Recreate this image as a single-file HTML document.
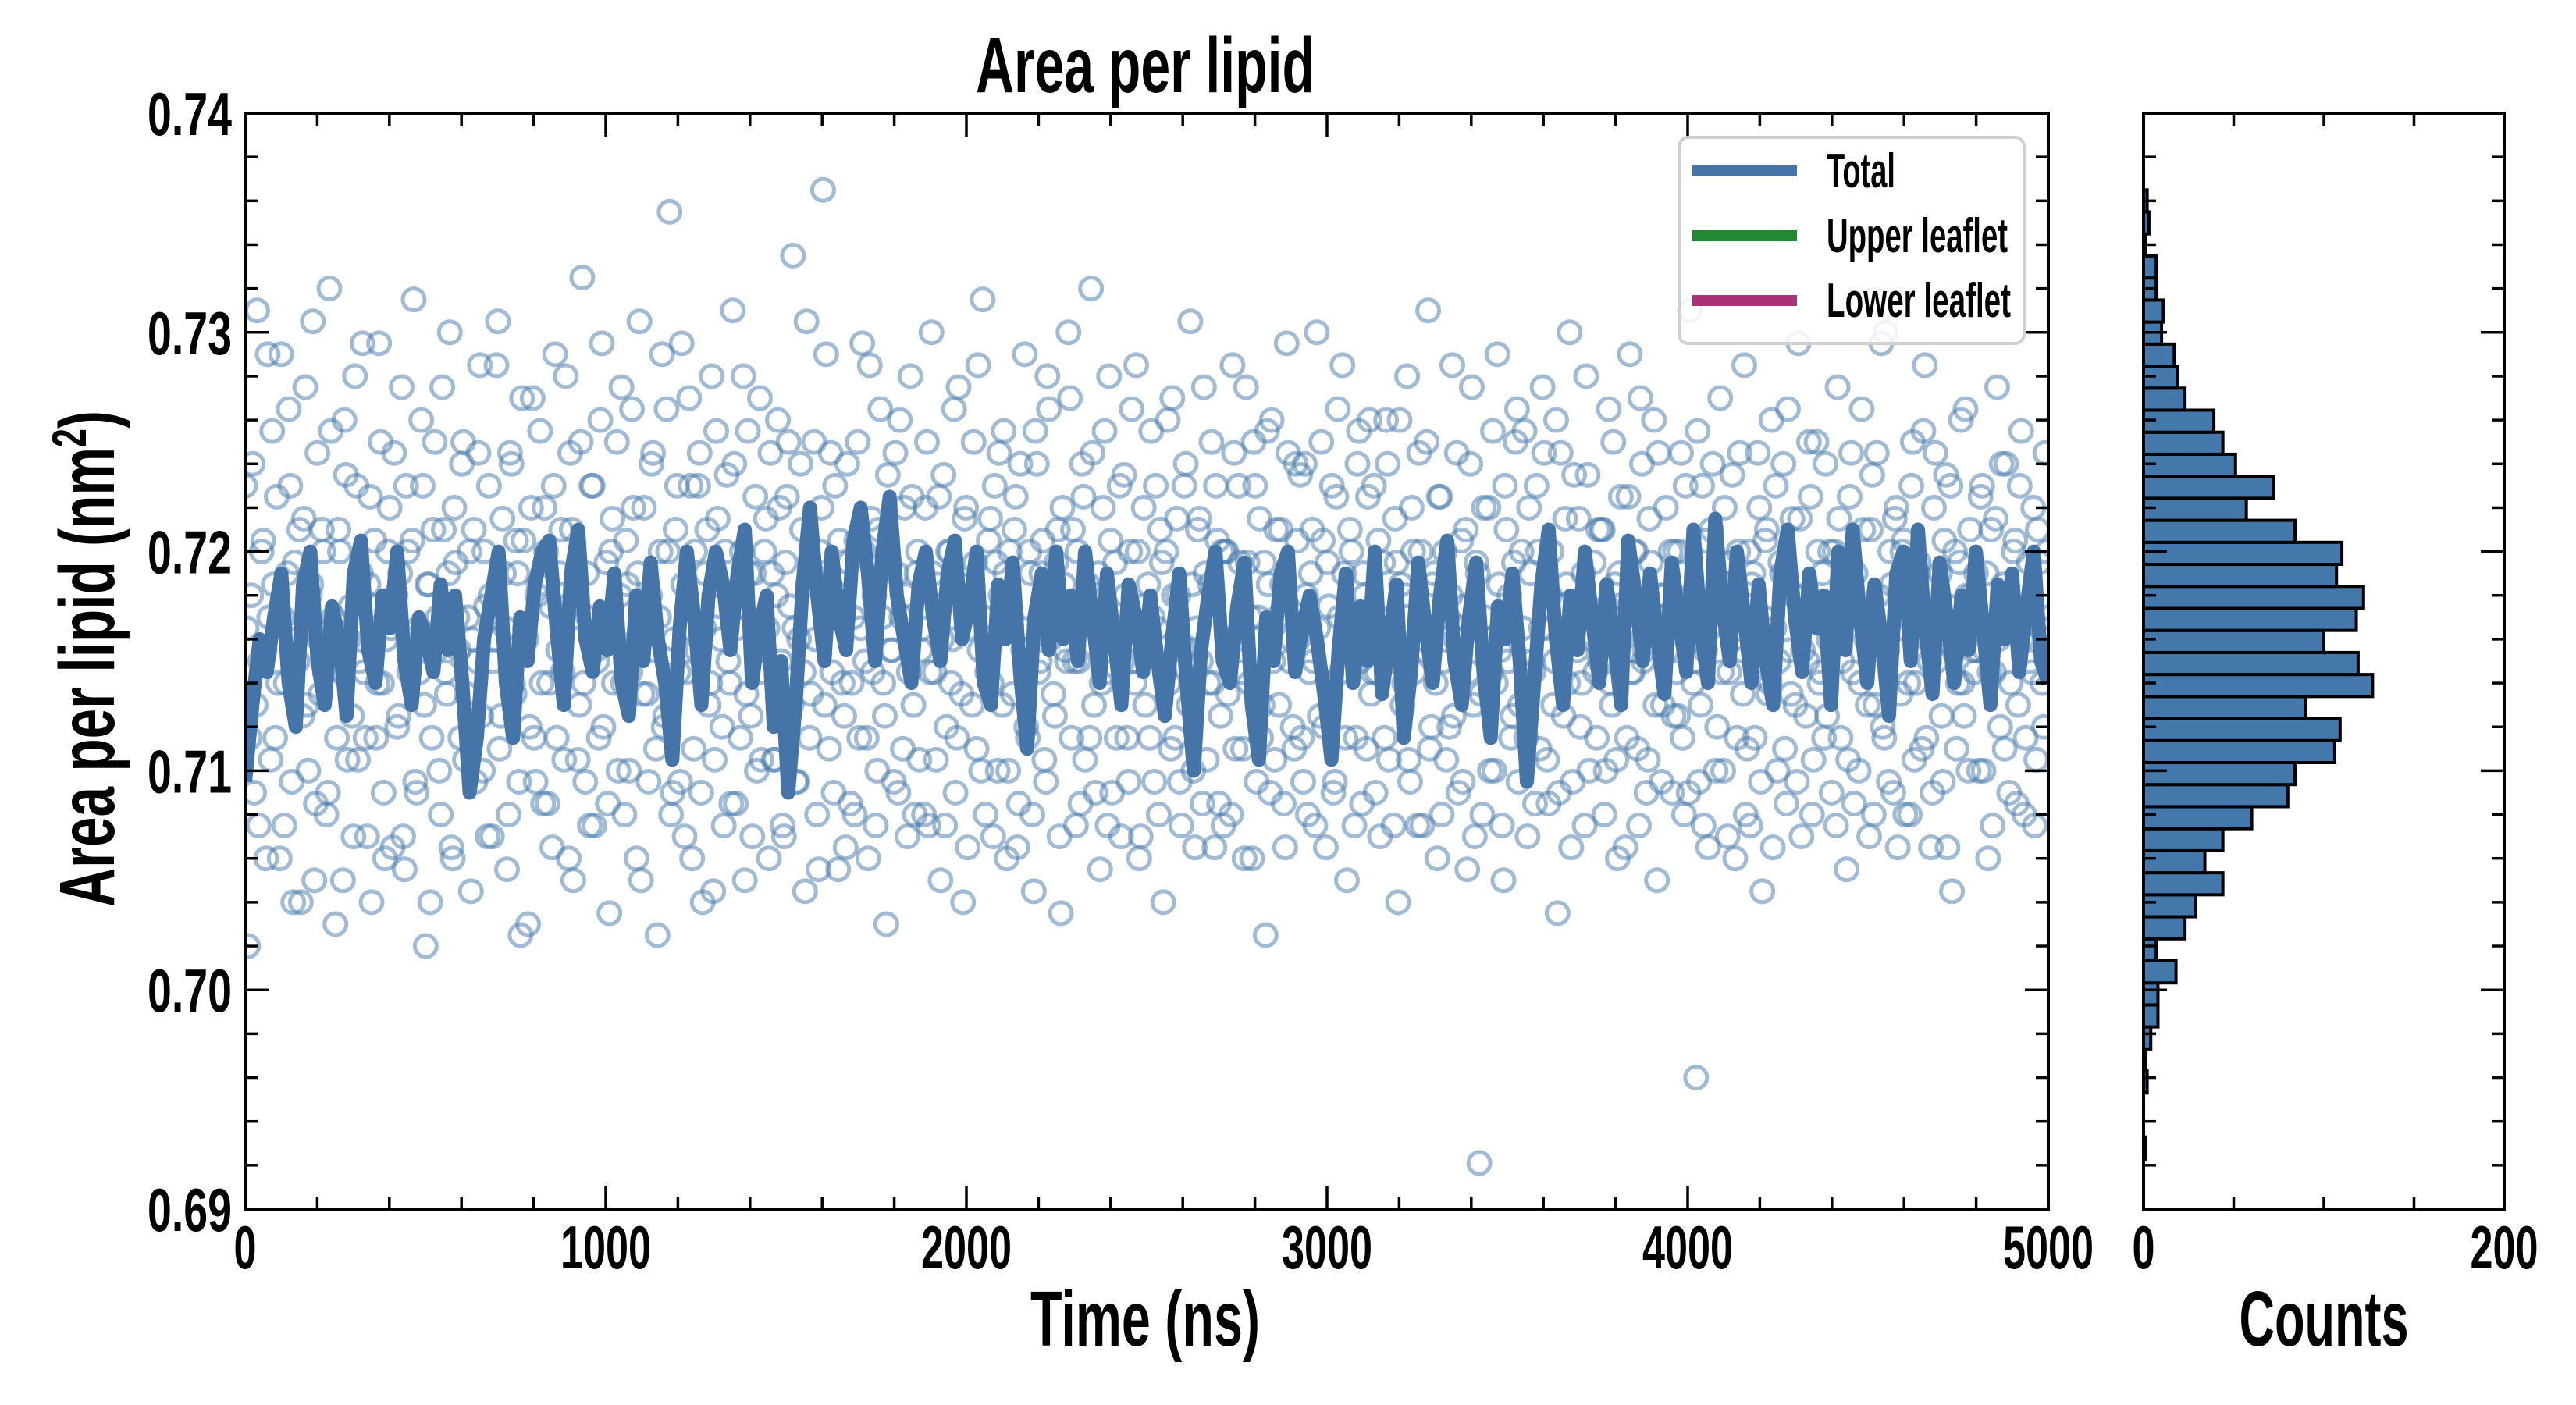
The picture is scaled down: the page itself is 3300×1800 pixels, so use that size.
<!DOCTYPE html>
<html><head><meta charset="utf-8"><style>
html,body{margin:0;padding:0;background:#fff;}
svg{display:block;}
text{font-family:"Liberation Sans",sans-serif;font-weight:bold;fill:#000;}
</style></head><body>
<svg id="chart" width="3300" height="1800" viewBox="0 0 3300 1800" xmlns="http://www.w3.org/2000/svg">
<defs><clipPath id="mainClip"><rect x="314" y="145" width="2310" height="1404"/></clipPath></defs>
<g id="scatterLayer" clip-path="url(#mainClip)"></g>
<g id="lineLayer" clip-path="url(#mainClip)"></g>
<g id="histLayer"></g>
<g id="axesLayer"></g>
<text x="1467" y="118" font-size="100" text-anchor="middle" textLength="434" lengthAdjust="spacingAndGlyphs">Area per lipid</text>
<text x="1467" y="1724" font-size="100" text-anchor="middle" textLength="294" lengthAdjust="spacingAndGlyphs">Time (ns)</text>
<text x="2977" y="1724" font-size="100" text-anchor="middle" textLength="217" lengthAdjust="spacingAndGlyphs">Counts</text>
<text transform="translate(146,844) rotate(-90)" x="0" y="0" font-size="100" text-anchor="middle" textLength="636" lengthAdjust="spacingAndGlyphs">Area per lipid (nm<tspan dy="-36" font-size="62">2</tspan><tspan dy="36">)</tspan></text>
<g>
<rect x="2151" y="176" width="442" height="264" rx="12" fill="#fff" fill-opacity="0.85" stroke="#d0d0d0" stroke-width="4"/>
<line x1="2168" y1="219" x2="2302" y2="219" stroke="#4575a8" stroke-width="14"/>
<text x="2340" y="240" font-size="62" textLength="88" lengthAdjust="spacingAndGlyphs">Total</text>
<line x1="2168" y1="302" x2="2302" y2="302" stroke="#228833" stroke-width="14"/>
<text x="2340" y="323" font-size="62" textLength="232" lengthAdjust="spacingAndGlyphs">Upper leaflet</text>
<line x1="2168" y1="385" x2="2302" y2="385" stroke="#aa3377" stroke-width="14"/>
<text x="2340" y="406" font-size="62" textLength="236" lengthAdjust="spacingAndGlyphs">Lower leaflet</text>
</g>
</svg>
<script>
// ---- data ----
const yTickValues = [0.69, 0.70, 0.71, 0.72, 0.73, 0.74];
const yTickLabels = ["0.69", "0.70", "0.71", "0.72", "0.73", "0.74"];
const xTickValues = [0, 1000, 2000, 3000, 4000, 5000];
const xTickLabels = ["0", "1000", "2000", "3000", "4000", "5000"];
const histTickValues = [0, 200];
const histTickLabels = ["0", "200"];
// smoothed total area per lipid, units of 0.0001 nm^2 above 0.69, evenly spaced over 0..5000 ns
const lineValues = [
195,230,260,245,270,290,240,220,285,300,250,230,275,260,225,290,305,255,240,280,265,300,250,230,270,
260,245,285,255,280,240,190,215,260,280,300,240,215,270,250,285,300,305,265,230,290,310,260,245,275,
255,290,240,225,280,250,295,260,240,205,265,300,270,230,280,300,285,255,290,310,240,265,280,220,250,
190,230,285,320,280,250,300,270,255,305,320,290,250,300,325,280,260,240,285,300,270,250,290,305,260,
275,300,240,230,285,260,295,245,210,270,290,255,300,260,280,250,300,270,240,290,260,230,285,270,245,
280,250,225,260,290,240,200,255,280,300,250,240,275,295,230,205,270,250,290,300,245,265,280,260,235,
205,255,290,240,275,250,300,235,260,285,215,245,295,265,240,280,305,250,230,270,295,245,215,275,260,
290,250,195,240,285,310,260,230,280,255,300,270,240,285,260,230,305,280,250,290,260,235,295,270,245,
310,265,240,315,275,250,300,270,240,285,250,230,290,310,270,245,290,265,280,230,300,255,310,270,240,
285,260,225,290,300,250,310,265,235,295,270,240,280,255,300,265,230,285,260,290,245,275,300,250,240];
// raw samples (set A), units of 0.0001 nm^2 above 0.69, evenly spaced over 0..5000 ns
const scatterValues = [
330,120,280,190,410,250,305,160,270,355,215,240,390,175,290,330,140,260,310,225,375,200,285,150,345,
235,300,180,420,265,130,310,245,360,205,275,170,330,250,395,215,285,140,305,240,350,190,260,320,165,
280,225,375,155,300,260,415,190,245,330,120,285,215,350,270,180,310,235,400,160,295,255,340,205,270,
145,310,250,385,200,275,330,170,260,405,225,290,155,345,240,305,195,370,265,130,320,215,280,355,185,
300,240,165,390,255,310,205,275,345,150,285,230,425,195,270,330,175,250,360,220,295,135,315,260,200,
375,180,285,245,320,160,405,235,270,195,340,255,125,300,220,365,455,190,310,245,395,170,265,330,210,
255,345,140,290,230,380,205,315,260,175,335,240,410,185,275,300,150,355,225,290,200,370,245,315,160,
290,205,360,250,170,325,275,435,195,260,310,145,285,235,350,180,300,465,390,210,245,330,155,280,225,
340,185,270,305,215,395,250,160,315,280,200,365,240,130,295,255,345,190,270,320,170,380,230,290,205,
265,320,175,400,245,285,150,335,220,300,260,190,375,235,315,165,280,350,210,255,415,180,305,240,330,
200,280,355,160,300,235,325,185,265,390,215,290,145,340,250,305,195,365,270,225,310,135,285,250,370,
310,175,250,340,205,285,420,230,265,155,320,245,380,190,295,260,170,335,215,300,250,385,160,275,230,
285,355,195,265,310,140,300,240,370,215,280,175,330,255,405,200,265,315,185,290,240,350,165,305,225,
175,300,260,385,210,330,245,160,295,270,350,195,315,230,125,285,360,205,270,310,185,395,250,220,340,
260,215,340,180,290,250,400,225,305,165,275,330,195,365,245,290,150,310,260,215,355,185,280,325,235,
330,245,170,295,360,205,270,315,140,285,240,380,195,300,260,345,175,255,410,220,290,160,325,250,205,
220,385,260,190,305,275,155,340,230,295,21,180,270,320,245,200,390,255,150,310,280,225,350,195,300,
355,170,290,245,330,210,375,265,185,300,250,135,345,225,285,400,195,270,315,240,175,335,260,295,215,
250,310,200,365,230,285,160,325,270,215,390,245,300,175,340,255,205,295,360,150,280,230,320,265,190,
300,225,345,180,265,410,240,60,195,330,255,165,310,275,220,370,200,285,245,335,160,300,255,385,210,
175,290,250,320,145,305,235,360,265,200,295,340,185,255,315,230,395,170,280,250,325,205,350,240,290,
340,260,190,300,375,215,280,155,325,245,290,200,365,270,230,310,180,345,255,220,400,195,285,315,165,
235,305,270,180,350,240,295,210,385,260,165,320,250,290,195,335,275,145,300,240,360,225,280,310,255,
290,200,330,255,160,310,245,375,220,285,340,190,265,305,230,355,180,270,250,320,205,295,240,345,270];
// raw samples (set B), interleaved between set A samples
const scatterValues2 = [
265,215,340,230,175,300,255,390,205,285,325,160,270,240,365,195,295,250,140,315,230,280,405,185,260,
310,245,190,355,270,215,300,150,335,260,225,380,205,290,245,170,325,275,215,395,240,160,300,265,345,
220,290,170,330,245,305,195,265,360,230,285,140,310,255,200,375,245,290,165,320,270,215,350,235,300,
260,195,345,225,300,170,280,250,385,210,315,265,180,340,235,290,125,305,260,220,370,195,285,240,320,
185,275,330,215,290,245,380,160,310,270,205,350,240,290,175,330,255,215,395,265,185,300,240,350,280,
240,305,200,365,255,290,150,320,235,280,345,210,270,390,225,300,180,260,330,195,285,245,370,160,300,
330,190,265,310,240,145,355,275,220,300,250,185,340,265,215,380,235,290,170,325,255,205,300,265,345,
205,280,320,175,295,350,230,265,195,340,245,405,215,290,260,155,320,230,285,345,190,270,305,240,165,
295,240,180,350,265,300,215,385,245,175,310,270,225,335,255,195,290,360,210,280,245,325,180,300,255,
180,350,245,290,205,325,260,175,300,240,365,215,285,140,320,265,230,295,385,200,270,245,315,170,295,
345,230,290,200,270,310,165,340,255,220,300,180,355,245,290,205,380,260,235,295,170,320,255,400,215,
250,300,185,325,270,215,345,190,290,240,355,175,305,260,215,330,250,280,195,365,240,300,170,320,260,
215,270,330,180,295,245,360,210,280,315,195,255,340,230,285,165,310,250,375,205,285,240,330,185,300,
300,235,180,345,260,295,210,375,240,160,330,270,215,295,355,190,250,310,230,285,165,345,260,210,305,
335,195,280,245,310,175,265,350,220,295,240,190,325,270,385,215,260,300,175,340,250,290,210,360,245,
190,305,265,215,340,250,175,295,360,230,280,205,320,245,175,300,265,350,210,285,240,325,180,300,270,
280,225,345,260,195,310,245,375,170,290,235,320,260,200,355,240,285,175,330,250,215,295,365,230,265,
215,320,250,185,300,265,345,205,280,230,360,190,275,315,240,165,335,255,220,290,380,200,270,245,310,
310,180,275,240,350,205,290,260,165,325,245,300,210,370,250,190,315,270,230,345,195,280,255,300,225,
245,300,215,330,190,280,250,355,230,175,305,265,340,200,285,245,320,170,295,260,215,345,235,180,300,
285,215,345,195,270,310,240,165,330,250,290,210,365,235,280,195,315,255,225,350,180,270,300,245,215,
225,300,265,175,315,250,290,205,345,185,270,240,310,260,170,335,230,280,395,215,255,300,190,320,265,
300,180,240,330,205,290,265,355,215,250,190,345,275,225,305,165,330,255,210,295,240,365,200,280,245,
255,325,200,290,245,175,315,260,340,210,280,240,300,185,330,260,215,295,245,175,310,265,220,300,250];
// histogram counts, lowest bin first
const histCounts = [1,0,0,2,1,4,8,8,18,7,23,29,44,34,44,60,80,84,106,109,90,127,119,100,118,122,107,110,84,57,72,51,44,39,23,19,17,10,11,7,7,1,3,2];
const histBinStart = 0.69228;
const histBinWidth = 0.001005;

// ---- layout ----
const NS = "http://www.w3.org/2000/svg";
const M = {l:314, r:2624, t:145, b:1549};
const H = {l:2746, r:3208};
const yMin = 0.69, yMax = 0.74, xMin = 0, xMax = 5000, cMax = 200;
const sx = v => M.l + (v - xMin) / (xMax - xMin) * (M.r - M.l);
const sy = v => M.b - (v - yMin) / (yMax - yMin) * (M.b - M.t);
const sc = c => H.l + c / cMax * (H.r - H.l);
function mk(tag, parent, attrs) {
  const e = document.createElementNS(NS, tag);
  for (const k in attrs) e.setAttribute(k, attrs[k]);
  parent.appendChild(e);
  return e;
}

// scatter
const sl = document.getElementById('scatterLayer');
const stepA = 5000 / (scatterValues.length - 1);
function drawPoint(t, v) {
  const c = mk('circle', sl, {cx: sx(t), cy: sy(0.69 + v * 0.0001), r: 14, fill: 'none', stroke: '#4477aa', 'stroke-opacity': 0.5, 'stroke-width': 5});
  
  
}
scatterValues.forEach((v, i) => drawPoint(i * stepA, v));
scatterValues2.forEach((v, i) => drawPoint((i + 0.5) * stepA, v));

// line
const ll = document.getElementById('lineLayer');
const pts = lineValues.map((v, i) => sx(i * 5000 / (lineValues.length - 1)).toFixed(1) + ',' + sy(0.69 + v * 0.0001).toFixed(1)).join(' ');
const pl = mk('polyline', ll, {points: pts, fill: 'none', stroke: '#4575a8', 'stroke-width': 18, 'stroke-linejoin': 'round'});



// histogram
const hl = document.getElementById('histLayer');
histCounts.forEach((c, i) => {
  if (c <= 0) return;
  const lo = histBinStart + i * histBinWidth, hi = lo + histBinWidth;
  const r = mk('rect', hl, {x: H.l, y: sy(hi), width: sc(c) - H.l, height: sy(lo) - sy(hi), fill: '#4477aa', stroke: '#000', 'stroke-width': 4});
  
  
});

// axes
const al = document.getElementById('axesLayer');
function tick(x1, y1, x2, y2) {
  const t = mk('line', al, {x1, y1, x2, y2, stroke: '#000', 'stroke-width': 3.5});
  
  
}
const MJ = 30, MN = 16;
for (let k = 0; k <= 25; k++) {
  const v = yMin + k * 0.002, y = sy(v), len = (k % 5 === 0) ? MJ : MN;
  tick(M.l, y, M.l + len, y); tick(M.r, y, M.r - len, y);
  tick(H.l, y, H.l + len, y); tick(H.r, y, H.r - len, y);
}
for (let k = 0; k <= 25; k++) {
  const x = sx(k * 200), len = (k % 5 === 0) ? MJ : MN;
  tick(x, M.b, x, M.b - len); tick(x, M.t, x, M.t + len);
}
for (let k = 0; k <= 4; k++) {
  const x = sc(k * 50), len = (k % 4 === 0) ? MJ : MN;
  tick(x, M.b, x, M.b - len); tick(x, M.t, x, M.t + len);
}
const f1 = mk('rect', al, {x: M.l, y: M.t, width: M.r - M.l, height: M.b - M.t, fill: 'none', stroke: '#000', 'stroke-width': 4});


const f2 = mk('rect', al, {x: H.l, y: M.t, width: H.r - H.l, height: M.b - M.t, fill: 'none', stroke: '#000', 'stroke-width': 4});


yTickValues.forEach((v, i) => {
  const t = mk('text', al, {x: 297, y: sy(v) + 28, 'font-size': 78, 'text-anchor': 'end', textLength: 108, lengthAdjust: 'spacingAndGlyphs'});
  t.textContent = yTickLabels[i];
  
  
});
xTickValues.forEach((v, i) => {
  const lab = xTickLabels[i];
  const t = mk('text', al, {x: sx(v), y: 1625, 'font-size': 78, 'text-anchor': 'middle', textLength: lab.length * 29, lengthAdjust: 'spacingAndGlyphs'});
  t.textContent = lab;
  
  
});
histTickValues.forEach((v, i) => {
  const lab = histTickLabels[i];
  const t = mk('text', al, {x: sc(v), y: 1625, 'font-size': 78, 'text-anchor': 'middle', textLength: lab.length * 29, lengthAdjust: 'spacingAndGlyphs'});
  t.textContent = lab;
  
  
});
</script>
</body></html>
